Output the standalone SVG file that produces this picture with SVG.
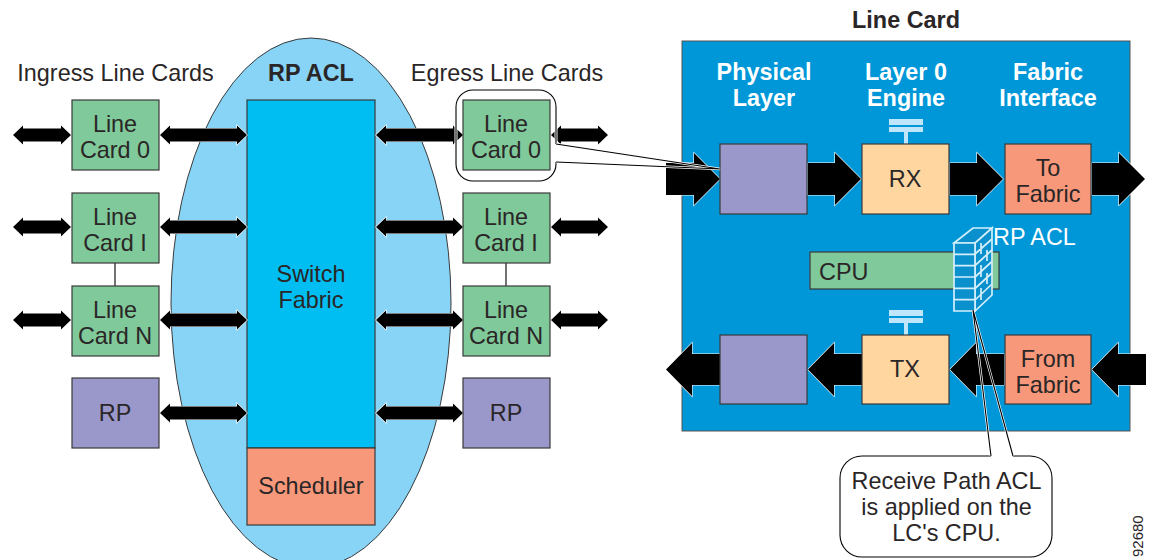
<svg xmlns="http://www.w3.org/2000/svg" width="1154" height="560" viewBox="0 0 1154 560">
<style>
text{font-family:"Liberation Sans",Arial,sans-serif;font-size:23.400px;fill:#2a2627;text-anchor:middle}
.b{font-weight:bold}
.w{fill:#fff}
.box{stroke:#3a3a3a;stroke-width:1.2}
.g{fill:#80c99a}.p{fill:#9a97cb}.o{fill:#f7987a}.y{fill:#ffd6a0}
.a{fill:#000;stroke:#fff;stroke-width:1.2;paint-order:stroke}
.t{fill:#bfe6fa}
.cw{fill:none;stroke:#fff;stroke-width:3}
.ck{fill:none;stroke:#000;stroke-width:1.1}
.fw{fill:#0a90cc;stroke:#d4effb;stroke-width:1.700}
</style>
<ellipse id="rp-acl-zone" cx="311" cy="303" rx="140" ry="265" fill="#88d4f7" stroke="#3a3a3a" stroke-width="1"/>
<g id="switch-fabric"><rect class="box" x="247" y="100" width="128" height="348" fill="#00bef2"/><text x="311" y="282">Switch</text><text x="311" y="308">Fabric</text></g>
<g id="scheduler"><rect class="o box" x="247" y="448" width="128" height="77"/><text x="311" y="494">Scheduler</text></g>
<g id="line-card-panel"><rect x="682" y="41" width="448" height="390" fill="#0097d8" stroke="#555" stroke-width="1"/></g>
<text x="115.500" y="81">Ingress Line Cards</text>
<text class="b" x="311" y="81">RP ACL</text>
<text x="507" y="81">Egress Line Cards</text>
<text class="b" x="906" y="28">Line Card</text>
<text class="b w" x="764" y="80">Physical</text><text class="b w" x="764" y="106">Layer</text>
<text class="b w" x="906" y="80">Layer 0</text><text class="b w" x="906" y="106">Engine</text>
<text class="b w" x="1048" y="80">Fabric</text><text class="b w" x="1048" y="106">Interface</text>
<g id="connectors">
<path class="ck" d="M115 263V286M506 263V286"/>
<g id="arrows-small">
<polygon class="a" points="13,135 23,125.500 23,128.500 61,128.500 61,125.500 71,135 61,144.500 61,141.500 23,141.500 23,144.500"/>
<polygon class="a" points="13,227 23,217.500 23,220.500 61,220.500 61,217.500 71,227 61,236.500 61,233.500 23,233.500 23,236.500"/>
<polygon class="a" points="13,320 23,310.500 23,313.500 61,313.500 61,310.500 71,320 61,329.500 61,326.500 23,326.500 23,329.500"/>
<polygon class="a" points="160,135 170,125.500 170,128.500 237,128.500 237,125.500 247,135 237,144.500 237,141.500 170,141.500 170,144.500"/>
<polygon class="a" points="160,227 170,217.500 170,220.500 237,220.500 237,217.500 247,227 237,236.500 237,233.500 170,233.500 170,236.500"/>
<polygon class="a" points="160,320 170,310.500 170,313.500 237,313.500 237,310.500 247,320 237,329.500 237,326.500 170,326.500 170,329.500"/>
<polygon class="a" points="160,413 170,403.500 170,406.500 237,406.500 237,403.500 247,413 237,422.500 237,419.500 170,419.500 170,422.500"/>
<polygon class="a" points="376,135 386,125.500 386,128.500 453,128.500 453,125.500 463,135 453,144.500 453,141.500 386,141.500 386,144.500"/>
<polygon class="a" points="376,227 386,217.500 386,220.500 453,220.500 453,217.500 463,227 453,236.500 453,233.500 386,233.500 386,236.500"/>
<polygon class="a" points="376,320 386,310.500 386,313.500 453,313.500 453,310.500 463,320 453,329.500 453,326.500 386,326.500 386,329.500"/>
<polygon class="a" points="376,413 386,403.500 386,406.500 453,406.500 453,403.500 463,413 453,422.500 453,419.500 386,419.500 386,422.500"/>
<polygon class="a" points="551,135 561,125.500 561,128.500 598,128.500 598,125.500 608,135 598,144.500 598,141.500 561,141.500 561,144.500"/>
<polygon class="a" points="551,227 561,217.500 561,220.500 598,220.500 598,217.500 608,227 598,236.500 598,233.500 561,233.500 561,236.500"/>
<polygon class="a" points="551,320 561,310.500 561,313.500 598,313.500 598,310.500 608,320 598,329.500 598,326.500 561,326.500 561,329.500"/>
</g>
<g id="arrows-large">
<polygon class="a" points="666,163 694,163 694,153 720,179 694,205 694,195 666,195"/>
<polygon class="a" points="808,163 835,163 835,153 861,179 835,205 835,195 808,195"/>
<polygon class="a" points="950,163 977,163 977,153 1003,179 977,205 977,195 950,195"/>
<polygon class="a" points="1092,163 1119,163 1119,153 1145,179 1119,205 1119,195 1092,195"/>
<polygon class="a" points="1146,354 1118,354 1118,343 1092,369.500 1118,396 1118,385 1146,385"/>
<polygon class="a" points="1004,354 976,354 976,343 950,369.500 976,396 976,385 1004,385"/>
<polygon class="a" points="862,354 834,354 834,343 808,369.500 834,396 834,385 862,385"/>
<polygon class="a" points="720,354 692,354 692,343 666,369.500 692,396 692,385 720,385"/>
</g>
</g>
<g id="ingress-line-card-0"><rect class="g box" x="72" y="100" width="87" height="70"/><text x="115" y="132">Line</text><text x="115" y="158">Card 0</text></g>
<g id="ingress-line-card-i"><rect class="g box" x="72" y="193" width="87" height="70"/><text x="115" y="225">Line</text><text x="115" y="251">Card I</text></g>
<g id="ingress-line-card-n"><rect class="g box" x="72" y="286" width="87" height="70"/><text x="115" y="318">Line</text><text x="115" y="344">Card N</text></g>
<g id="ingress-rp"><rect class="p box" x="72" y="378" width="87" height="70"/><text x="115" y="421">RP</text></g>
<g id="egress-line-card-0"><rect class="g box" x="463" y="100" width="87" height="70"/><text x="506" y="132">Line</text><text x="506" y="158">Card 0</text></g>
<g id="egress-line-card-i"><rect class="g box" x="463" y="193" width="87" height="70"/><text x="506" y="225">Line</text><text x="506" y="251">Card I</text></g>
<g id="egress-line-card-n"><rect class="g box" x="463" y="286" width="87" height="70"/><text x="506" y="318">Line</text><text x="506" y="344">Card N</text></g>
<g id="egress-rp"><rect class="p box" x="463" y="378" width="87" height="70"/><text x="506" y="421">RP</text></g>
<g id="physical-rx"><rect class="p box" x="720" y="144" width="87" height="70"/></g>
<g id="rx"><rect class="t" x="889" y="119" width="34" height="6"/><rect class="t" x="889" y="127" width="34" height="5"/><rect class="t" x="904" y="132" width="4" height="12"/><rect class="y box" x="862" y="144" width="87" height="70"/><text x="905" y="187">RX</text></g>
<g id="to-fabric"><rect class="o box" x="1005" y="144" width="86" height="70"/><text x="1048" y="176">To</text><text x="1048" y="202">Fabric</text></g>
<g id="physical-tx"><rect class="p box" x="720" y="335" width="87" height="69"/></g>
<g id="tx"><rect class="t" x="889" y="310" width="34" height="6"/><rect class="t" x="889" y="318" width="34" height="5"/><rect class="t" x="904" y="323" width="4" height="12"/><rect class="y box" x="862" y="335" width="87" height="69"/><text x="905" y="377">TX</text></g>
<g id="from-fabric"><rect class="o box" x="1005" y="335" width="86" height="69"/><text x="1048" y="367">From</text><text x="1048" y="393">Fabric</text></g>
<g id="cpu"><rect class="g box" x="810" y="252" width="189" height="37"/><text x="819" y="280" style="text-anchor:start">CPU</text></g>
<g id="rp-acl-firewall">
<path class="fw" d="M954 243L973 228H992L975 243ZM975 243L992 228V295L975 311Z"/>
<path class="fw" d="M954 243H975V311H954Z"/>
<path class="fw" style="fill:none" d="M954 254.300H975M954 265.700H975M954 277H975M954 288.300H975M954 299.700H975M975 254L992 239M975 265.500L992 250M975 277L992 261.500M975 288.500L992 273M975 300L992 284M981 243V254M987 250V261M981 265V277M987 273V284M981 288V300"/>
<text class="w" x="993" y="245" style="text-anchor:start">RP ACL</text>
</g>
<g id="egress-callout">
<path class="cw" d="M556 144V107A17 17 0 0 0 539 90H473A17 17 0 0 0 456 107V164A17 17 0 0 0 473 181H539A17 17 0 0 0 556 164V162"/>
<path class="ck" d="M556 144V107A17 17 0 0 0 539 90H473A17 17 0 0 0 456 107V164A17 17 0 0 0 473 181H539A17 17 0 0 0 556 164V162"/>
<path class="cw" style="stroke-width:2.500" d="M556 144L720 169L556 162"/>
<path class="ck" d="M556 144L720 169L556 162"/>
</g>
<g id="acl-callout">
<path d="M991 456H862A22 22 0 0 0 840 478V535A22 22 0 0 0 862 557H1030A22 22 0 0 0 1052 535V478A22 22 0 0 0 1030 456H1013Z" fill="#fff"/>
<path class="ck" d="M991 456H862A22 22 0 0 0 840 478V535A22 22 0 0 0 862 557H1030A22 22 0 0 0 1052 535V478A22 22 0 0 0 1030 456H1013"/>
<path class="cw" style="stroke-width:2.500" d="M991 456L973 310L1013 456"/>
<path class="ck" d="M991 456L973 310L1013 456"/>
<text x="946.500" y="489">Receive Path ACL</text><text x="946.500" y="515">is applied on the</text><text x="946.500" y="541">LC's CPU.</text>
</g>
<text x="0" y="0" transform="translate(1143 557) rotate(-90)" style="font-size:15px;text-anchor:start">92680</text>
</svg>
